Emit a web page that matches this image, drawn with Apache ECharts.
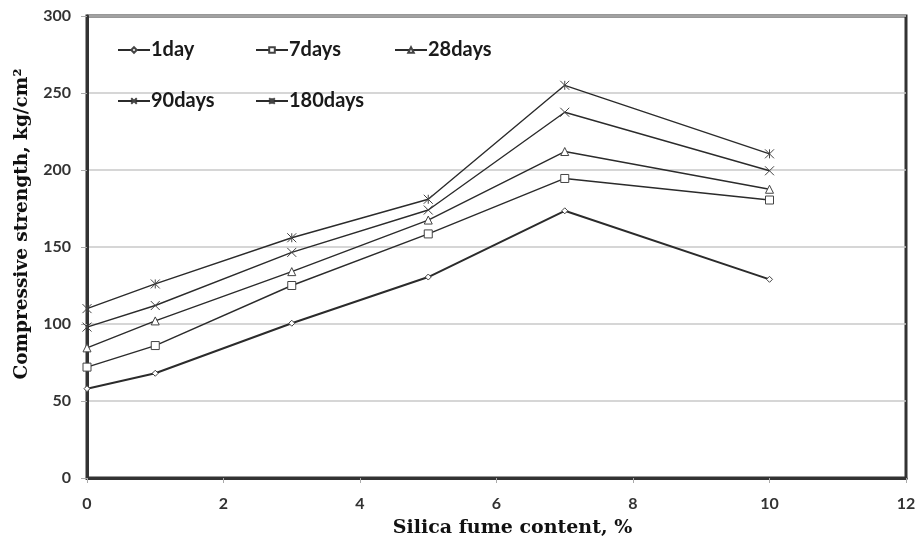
<!DOCTYPE html>
<html><head><meta charset="utf-8">
<script src="https://cdn.jsdelivr.net/npm/echarts@6/dist/echarts.min.js"></script>
<style>html,body{margin:0;padding:0;background:#fff}#c{width:921px;height:543px}</style>
</head><body><div id="c"></div>
<script>
const xValues = [0, 1, 3, 5, 7, 10];
const seriesNames = ['1day', '7days', '28days', '90days', '180days'];
const day1 = [58, 68, 100.5, 130.5, 173.5, 129];
const days7 = [72, 86, 125, 158.5, 194.5, 180.5];
const days28 = [84.5, 102, 134, 167.5, 212, 187.5];
const days90 = [98, 112, 146.5, 174, 237.5, 199.5];
const days180 = [110, 126, 156, 181, 255, 210.5];
const seriesValues = [day1, days7, days28, days90, days180];

const symbols = [
  'diamond',
  'rect',
  'triangle',
  'path://M0,0L10,10M10,0L0,10',
  'path://M0,0L10,10M10,0L0,10M5,0L5,10'
];
const symbolSizes = [6, 8, 8, 9, 9];
const lineWidths = [2, 1.4, 1.4, 1.4, 1.4];
const legendPos = [[112, 35], [250, 35], [389, 35], [112, 86], [250, 86]];

const chart = echarts.init(document.getElementById('c'), null, {renderer: 'canvas'});
const series = seriesNames.map((name, i) => ({
  name: name,
  type: 'line',
  data: xValues.map((x, j) => [x, seriesValues[i][j]]),
  symbol: symbols[i],
  symbolSize: symbolSizes[i],
  showAllSymbol: true,
  color: '#2b2b2b',
  lineStyle: {color: '#2b2b2b', width: lineWidths[i]},
  itemStyle: {color: '#ffffff', borderColor: '#444', borderWidth: 1},
  emphasis: {disabled: true},
  z: 3
}));

const legends = seriesNames.map((name, i) => ({
  data: [name],
  left: legendPos[i][0],
  top: legendPos[i][1],
  itemWidth: 32,
  itemHeight: 7,
  itemGap: 4,
  textStyle: {fontFamily: 'Lato', fontWeight: 'bold', fontSize: 20, color: '#1a1a1a', padding: [0, 0, 0, -4]}
}));

chart.setOption({
  animation: false,
  backgroundColor: '#fff',
  legend: legends,
  grid: {left: 87, right: 15, top: 16, bottom: 65, show: true, borderColor: '#333', borderWidth: 3},
  xAxis: {
    type: 'value', min: 0, max: 12, interval: 2,
    name: 'Silica fume content, %', nameLocation: 'middle', nameGap: 41,
    nameTextStyle: {fontFamily: 'DejaVu Serif', fontWeight: 'bold', fontSize: 19, color: '#111', padding: [0, 0, 0, 32]},
    axisLine: {show: true, lineStyle: {color: '#333', width: 3}},
    axisTick: {show: true, length: 5, lineStyle: {color: '#aaa'}},
    axisLabel: {fontFamily: 'Lato', fontWeight: 'bold', fontSize: 16, color: '#333', margin: 18},
    splitLine: {show: false}
  },
  yAxis: {
    type: 'value', min: 0, max: 300, interval: 50,
    name: 'Compressive strength, kg/cm²', nameLocation: 'middle', nameGap: 55,
    nameTextStyle: {fontFamily: 'DejaVu Serif', fontWeight: 'bold', fontSize: 18.5, color: '#111', padding: [0, 0, 0, 46]},
    axisLine: {show: true, lineStyle: {color: '#333', width: 3}},
    axisTick: {show: true, length: 6, lineStyle: {color: '#aaa'}},
    axisLabel: {fontFamily: 'Lato', fontWeight: 'bold', fontSize: 16, color: '#333', margin: 16},
    splitLine: {show: true, lineStyle: {color: '#c8c8c8', width: 1.5}}
  },
  series: series
});
</script></body></html>
